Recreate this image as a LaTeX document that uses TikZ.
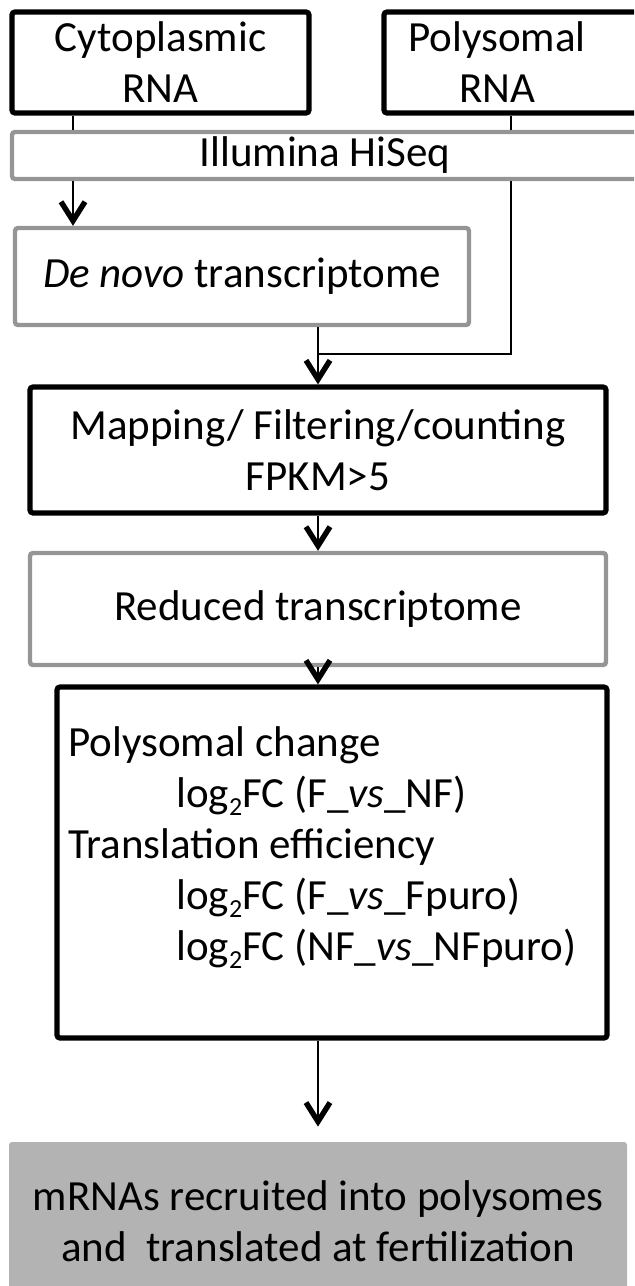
\documentclass[tikz,border=0pt]{standalone}
\usepackage{fontspec}
\setmainfont{Carlito}
\definecolor{flgray}{HTML}{959595}
\definecolor{flfill}{HTML}{B3B3B3}
\usetikzlibrary{arrows.meta}
\newcommand{\logtwo}{log\raisebox{-4pt}{\fontsize{13pt}{13pt}\selectfont 2}}

\begin{document}
\begin{tikzpicture}[x=0.5pt, y=-0.5pt,
  box/.style={rounded corners=1.5pt, inner sep=0pt, align=center,
              font=\fontsize{21.5pt}{25.5pt}\selectfont},
  blk/.style={box, draw=black, line width=2.6pt},
  gry/.style={box, draw=flgray, line width=2.2pt},
  lbl/.style={inner sep=0pt, font=\fontsize{21.5pt}{25.5pt}\selectfont},
  ln/.style={line width=0.9pt},
  arr/.style={ln, -{Straight Barb[length=9.5pt, width=12pt, line width=0pt 3]}},
]
  \clip (0,0) rectangle (634,1286);
  \node[blk, minimum width=148.5pt, minimum height=50.5pt] (cyto) at (160.5,62.5) {Cytoplasmic\\RNA};
  \node[blk, minimum width=133pt, minimum height=50.5pt] (poly) at (517,62.5) {};
  \node[lbl, align=center] (polyt) at (497,62.5) {Polysomal\\RNA};
  \node[gry, minimum width=313pt, minimum height=23.5pt] (illu) at (325,155.5) {Illumina HiSeq};
  \node[gry, minimum width=227pt, minimum height=48.5pt] (novo) at (242,276.5) {\textit{De novo} transcriptome};
  \node[blk, minimum width=288pt, minimum height=63pt] (map) at (318,450) {Mapping/ Filtering/counting\\FPKM>5};
  \node[gry, minimum width=288pt, minimum height=56pt] (red) at (318,609) {Reduced transcriptome};
  \node[blk, minimum width=275pt, minimum height=175.5pt] (stats) at (332,862.5) {};
  \node[lbl, align=left, anchor=north west] (statst) at (68,726) {Polysomal change\\
    \hspace*{54pt}\logtwo FC (F\_\textit{vs}\_NF)\\
    Translation efficiency\\
    \hspace*{54pt}\logtwo FC (F\_\textit{vs}\_Fpuro)\\
    \hspace*{54pt}\logtwo FC (NF\_\textit{vs}\_NFpuro)};
  \node[box, fill=flfill, minimum width=309pt, minimum height=79pt] (res) at (318,1221) {mRNAs recruited into polysomes\\and\ \ translated at fertilization};
  \coordinate (cl) at (73,0);
  \coordinate (pl) at (511,0);
  \coordinate (jn) at (318,354);
  \draw[ln] (cyto.south -| cl) -- (illu.north -| cl);
  \draw[arr] (illu.south -| cl) -- (novo.north -| cl);
  \draw[ln] (poly.south -| pl) -- (illu.north -| pl);
  \draw[ln] (illu.south -| pl) |- (jn);
  \draw[arr] (novo.south -| map.north) -- (map.north);
  \draw[arr] (map.south) -- (red.north);
  \draw[arr] (red.south) -- (red.south |- stats.north);
  \draw[arr, shorten >=7.5pt] (stats.south -| res.north) -- (res.north);
\end{tikzpicture}
\end{document}
